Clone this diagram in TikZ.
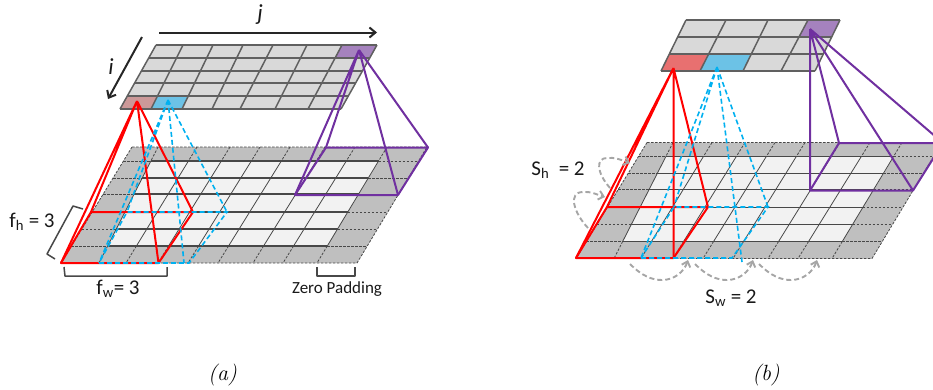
\documentclass[tikz,border=0pt]{standalone}
\usepackage{fontspec}
\setsansfont{Carlito}
\usepackage{tikz}
\usetikzlibrary{arrows.meta,calc}
\definecolor{cellgray}{RGB}{217,217,217}
\definecolor{cellline}{RGB}{96,96,96}
\definecolor{padgray}{RGB}{191,191,191}
\definecolor{innergray}{RGB}{242,242,242}
\definecolor{gridline}{RGB}{72,72,72}
\definecolor{kernelred}{RGB}{255,0,0}
\definecolor{kernelblue}{RGB}{0,176,240}
\definecolor{kernelpurple}{RGB}{112,48,160}
\definecolor{stridegray}{RGB}{166,166,166}
\definecolor{redcell}{RGB}{204,153,153}
\definecolor{redcellb}{RGB}{232,112,112}
\definecolor{bluecell}{RGB}{108,194,230}
\definecolor{purplecell}{RGB}{165,130,190}
\tikzset{
  outcell/.style={draw=cellline, line width=1.5pt},
  griddash/.style={gridline, line width=0.8pt, dash pattern=on 2.5pt off 1.5pt},
  gridsolid/.style={gridline, line width=0.8pt},
  gridrow/.style={gridline, line width=1.1pt},
  redkernel/.style={kernelred, line width=2pt, line join=round},
  bluekernel/.style={kernelblue, line width=1.6pt, dash pattern=on 5pt off 3pt},
  purplekernel/.style={kernelpurple, line width=2pt, line join=round},
  bracket/.style={gridline, line width=1.5pt, line join=round},
  axis/.style={black!85, line width=2pt, -{Straight Barb[length=6pt,width=10pt]}},
  stride/.style={stridegray, line width=1.9pt, dash pattern=on 5pt off 3pt,
                 -{Straight Barb[length=5pt,width=9pt]}},
  lab/.style={font=\sffamily\fontsize{21}{23}\selectfont, text=black!90, inner sep=0pt},
  smalllab/.style={font=\sffamily\fontsize{17}{19}\selectfont, text=black!90, inner sep=0pt},
  axislab/.style={font=\sffamily\itshape\fontsize{23}{25}\selectfont, text=black!90, inner sep=0pt},
  caption/.style={font=\itshape\fontsize{22}{24}\selectfont, inner sep=0pt},
}
% padded input grid, same in both panels
\newcommand{\basegrid}{%
  \fill[padgray] (132,147) -- (427,147) -- (357,263) -- (61,263) -- cycle;
  \fill[innergray] (151,161) -- (379,161) -- (327,246) -- (108,246) -- cycle;
  \draw[griddash] (132,147) -- (427,147) -- (357,263) -- (61,263) -- cycle;
  \foreach \xt/\xb in {158/99,197/126,230/158,260/188,290/218,325/253,355/283,387/317} {
    \draw[griddash] (\xt,147) -- ($(\xt,147)!0.12!(\xb,263)$);
    \draw[gridsolid] ($(\xt,147)!0.12!(\xb,263)$) -- ($(\xt,147)!0.853!(\xb,263)$);
    \draw[griddash] ($(\xt,147)!0.853!(\xb,263)$) -- (\xb,263);
  }
  \foreach \y in {161,178,194,212,229,246} {
    \draw[griddash] ({132-(\y-147)*.612},\y) -- ({158-(\y-147)*.509},\y);
    \draw[gridrow] ({158-(\y-147)*.509},\y) -- ({387-(\y-147)*.603},\y);
    \draw[griddash] ({387-(\y-147)*.603},\y) -- ({427-(\y-147)*.603},\y);
  }
}
\begin{document}
\begin{tikzpicture}[x=1pt,y=-1pt]
  \path[use as bounding box, clip] (0,0) rectangle (933,389);

  % panel (a)
  \basegrid
  \fill[cellgray] (156,45) -- (377,45) -- (341,109) -- (120,109) -- cycle;
  \fill[redcell] (120,109) -- (151,109) -- (158,96) -- (127,96) -- cycle;
  \fill[bluecell] (151,109) -- (182,109) -- (188,96) -- (158,96) -- cycle;
  \fill[purplecell] (342,45) -- (377,45) -- (370,58) -- (335,58) -- cycle;
  \foreach \xt/\xb in {156/120,183/151,213/182,243/212,273/240,307/275,342/308,377/341}
    \draw[outcell] (\xt,45) -- (\xb,109);
  \foreach \y in {45,58,71,83,96,109}
    \draw[outcell] ({156-(\y-45)*.5625},\y) -- ({377-(\y-45)*.5625},\y);

  \coordinate (RA) at (137,101);
  \coordinate (RBL) at (61,263);
  \coordinate (RBR) at (158.5,263);
  \coordinate (RTR) at (193,212);
  \coordinate (RTL) at (91,212);
  \draw[redkernel] (RBL) -- (RBR) -- (RTR) -- (RTL) -- cycle;
  \draw[redkernel] (RA) -- (RBL) (RA) -- (RBR) (RA) -- (RTR) (RA) -- (RTL);

  \coordinate (BA) at (168,100);
  \coordinate (BBL) at (99,263);
  \coordinate (BBR) at (189,263);
  \coordinate (BTR) at (227,212);
  \coordinate (BTL) at (127,212);
  \coordinate (BFT) at (184,263);
  \draw[bluekernel] (BBL) -- (BBR) -- (BTR) -- (BTL) -- cycle;
  \draw[bluekernel] (BA) -- (BBL) (BA) -- (BFT) (BA) -- (BTR) (BA) -- (BTL);

  \coordinate (PA) at (359,50);
  \coordinate (PBL) at (295,195);
  \coordinate (PBR) at (398,195);
  \coordinate (PTR) at (428,147.5);
  \coordinate (PTL) at (326,147.5);
  \draw[purplekernel] (PBL) -- (PBR) -- (PTR) -- (PTL) -- cycle;
  \draw[purplekernel] (PA) -- (PBL) (PA) -- (PBR) (PA) -- (PTR) (PA) -- (PTL);

  \coordinate (JS) at (159,32.5);
  \coordinate (JE) at (377,32.5);
  \coordinate (IS) at (142,37);
  \coordinate (IE) at (108,99);
  \draw[axis] (JS) -- (JE);
  \draw[axis] (IS) -- (IE);
  \node[axislab] (JLAB) at (260,15) {j};
  \node[axislab] (ILAB) at (111,67) {i};

  \draw[bracket] (83,209) -- (73,206) -- (47,254) -- (55,259);
  \draw[bracket] (64,267) -- (65,276) -- (167,276) -- (167,267);
  \draw[bracket] (317,267) -- (317,276) -- (355,276) -- (355,267);
  \node[lab] (FH) at (32,222) {f\textsubscript{h} = 3};
  \node[lab] (FW) at (118,289) {f\textsubscript{w}= 3};
  \node[smalllab] (ZP) at (337,289) {Zero Padding};
  \node[caption] (CAPA) at (222.5,375) {(a)};

  % panel (b)
  \begin{scope}[shift={(515,-4.5)}]
    \basegrid
  \end{scope}
  \fill[cellgray] (686,20) -- (840,20) -- (815,71) -- (661,71) -- cycle;
  \fill[redcellb] (661,71) -- (700,71) -- (708,54) -- (669,54) -- cycle;
  \fill[bluecell] (700,71) -- (743,71) -- (751,54) -- (708,54) -- cycle;
  \fill[purplecell] (808,20) -- (840,20) -- (831,37) -- (799,37) -- cycle;
  \foreach \xt/\xb in {686/661,726/700,768/743,808/781,840/815}
    \draw[outcell] (\xt,20) -- (\xb,71);
  \foreach \y in {20,37,54,71}
    \draw[outcell] ({686-(\y-20)*.49},\y) -- ({840-(\y-20)*.49},\y);

  \coordinate (RA2) at (673.5,68);
  \coordinate (RBL2) at (576,258);
  \coordinate (RBR2) at (673.5,258);
  \coordinate (RTR2) at (708,207);
  \coordinate (RTL2) at (607,207);
  \draw[redkernel] (RBL2) -- (RBR2) -- (RTR2) -- (RTL2) -- cycle;
  \draw[redkernel] (RA2) -- (RBL2) (RA2) -- (RBR2) (RA2) -- (RTR2) (RA2) -- (RTL2);

  \coordinate (BA2) at (717,67);
  \coordinate (BBL2) at (641,258);
  \coordinate (BBR2) at (732,258);
  \coordinate (BTR2) at (768,207);
  \coordinate (BTL2) at (674,207);
  \coordinate (BFT2) at (742,262);
  \draw[bluekernel] (BBL2) -- (BBR2) -- (BTR2) -- (BTL2) -- cycle;
  \draw[bluekernel] (BA2) -- (BBL2) (BA2) -- (BFT2) (BA2) -- (BTR2) (BA2) -- (BTL2);

  \coordinate (PA2) at (810,29);
  \coordinate (PBL2) at (810,190.5);
  \coordinate (PBR2) at (913,190.5);
  \coordinate (PTR2) at (943,143);
  \coordinate (PTL2) at (839,143);
  \draw[purplekernel] (PBL2) -- (PBR2) -- (PTR2) -- (PTL2) -- cycle;
  \draw[purplekernel] (PA2) -- (PBL2) (PA2) -- (PBR2) (PA2) -- (PTR2) (PA2) -- (PTL2);

  \draw[stride] (610,188) .. controls (596,172) and (596,158) .. (607,158)
    .. controls (614,157) and (622,160) .. (630,163);
  \draw[stride] (588,228) .. controls (573,212) and (568,192) .. (583,192)
    .. controls (590,191) and (598,195) .. (605,197);
  \draw[stride] (630,264) .. controls (642,276) and (652,280) .. (662,280)
    .. controls (674,280) and (684,272) .. (688,260);
  \draw[stride] (695,264) .. controls (707,276) and (717,280) .. (727,280)
    .. controls (739,280) and (749,272) .. (753,260);
  \draw[stride] (759,264) .. controls (771,276) and (781,280) .. (791,280)
    .. controls (803,280) and (813,272) .. (817,260);

  \node[lab] (SH) at (558,170) {S\textsubscript{h}\ \ = 2};
  \node[lab] (SW) at (731,298) {S\textsubscript{w} = 2};
  \node[caption] (CAPB) at (766,375) {(b)};
\end{tikzpicture}
\end{document}
